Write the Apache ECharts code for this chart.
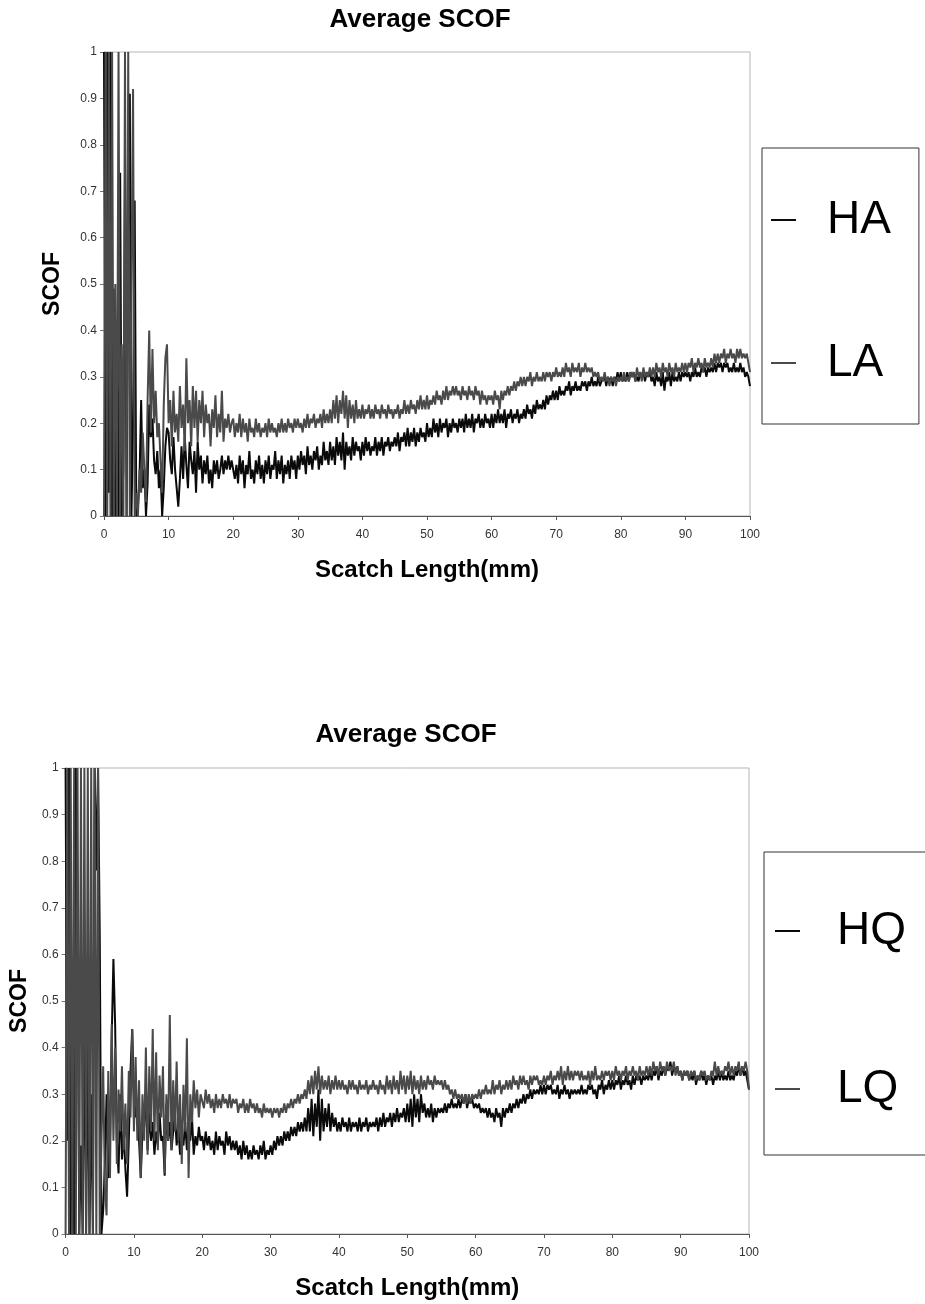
<!DOCTYPE html>
<html>
<head>
<meta charset="utf-8">
<script src="https://cdn.jsdelivr.net/npm/echarts@6/dist/echarts.min.js"></script>
<style>
html,body{margin:0;padding:0;background:#fff;}
#c{width:925px;height:1304px;}
</style>
</head>
<body>
<div id="c"></div>
<script>
// Sampling: every 0.25 mm from 0 to 100 mm (early = 0–19.75, late = 20–100)
const STEP = 0.25;
const xTicks = [0,10,20,30,40,50,60,70,80,90,100];
const titles = ['Average SCOF','Average SCOF'];
const xName = 'Scatch Length(mm)';
const yName = 'SCOF';
const names1 = ['HA','LA'];
const names2 = ['HQ','LQ'];

// ---- Chart 1 ----
const HA_early = [
1.0,0.0,1.0,0.05,1.0,0.0,0.49,0.0,
0.3,0.0,0.74,0.0,0.1,0.73,0.0,0.61,
0.91,0.0,0.2,0.68,0.0,0.02,0.08,0.25,
0.06,0.1,0.0,0.07,0.24,0.17,0.21,0.12,
0.09,0.14,0.06,0.1,0.0,0.06,0.15,0.19,
0.18,0.12,0.09,0.17,0.1,0.06,0.02,0.08,
0.15,0.08,0.17,0.11,0.06,0.16,0.12,0.09,
0.14,0.05,0.16,0.10,0.13,0.07,0.12,0.09,
0.13,0.07,0.10,0.06,0.12,0.09,0.12,0.08,
0.10,0.13,0.09,0.12,0.10,0.13,0.10,0.12];
const HA_late = [
0.12,0.08,0.11,0.07,0.13,0.09,0.12,0.06,0.11,0.09,0.14,0.08,0.10,0.07,0.12,0.09,0.13,0.08,0.11,0.07,
0.12,0.09,0.13,0.08,0.11,0.10,0.14,0.08,0.12,0.09,0.13,0.07,0.11,0.09,0.12,0.08,0.13,0.10,0.12,0.08,
0.13,0.10,0.14,0.11,0.13,0.09,0.15,0.11,0.13,0.10,0.14,0.12,0.15,0.10,0.13,0.11,0.16,0.12,0.14,0.11,
0.16,0.12,0.15,0.11,0.17,0.13,0.16,0.12,0.18,0.10,0.16,0.13,0.15,0.12,0.17,0.13,0.16,0.14,0.15,0.12,
0.16,0.13,0.17,0.14,0.16,0.13,0.15,0.14,0.17,0.13,0.16,0.14,0.17,0.13,0.16,0.15,0.17,0.14,0.16,0.15,
0.17,0.15,0.18,0.14,0.17,0.16,0.18,0.15,0.19,0.15,0.18,0.16,0.19,0.15,0.18,0.16,0.19,0.17,0.18,0.16,
0.20,0.17,0.19,0.17,0.21,0.18,0.20,0.17,0.21,0.18,0.20,0.19,0.21,0.17,0.20,0.18,0.21,0.19,0.20,0.18,
0.21,0.19,0.21,0.18,0.22,0.19,0.21,0.19,0.22,0.18,0.21,0.20,0.22,0.19,0.21,0.19,0.22,0.20,0.21,0.19,
0.22,0.19,0.22,0.20,0.23,0.20,0.22,0.20,0.23,0.19,0.22,0.21,0.23,0.20,0.22,0.21,0.23,0.20,0.22,0.21,
0.23,0.21,0.24,0.22,0.23,0.21,0.24,0.22,0.25,0.23,0.24,0.23,0.25,0.23,0.26,0.24,0.26,0.25,0.27,0.25,
0.27,0.25,0.28,0.26,0.27,0.26,0.28,0.27,0.29,0.26,0.28,0.27,0.29,0.27,0.28,0.27,0.29,0.28,0.29,0.27,
0.29,0.28,0.30,0.28,0.29,0.28,0.30,0.28,0.29,0.29,0.30,0.28,0.30,0.29,0.30,0.28,0.30,0.29,0.31,0.29,
0.31,0.29,0.30,0.29,0.31,0.29,0.31,0.30,0.31,0.29,0.30,0.29,0.31,0.30,0.31,0.29,0.31,0.30,0.31,0.29,
0.30,0.28,0.31,0.29,0.30,0.28,0.31,0.27,0.30,0.29,0.31,0.28,0.31,0.29,0.30,0.29,0.31,0.29,0.31,0.30,
0.31,0.30,0.31,0.29,0.31,0.30,0.32,0.30,0.31,0.30,0.32,0.31,0.32,0.30,0.32,0.31,0.32,0.31,0.33,0.31,
0.33,0.32,0.33,0.31,0.33,0.32,0.33,0.31,0.32,0.31,0.33,0.31,0.32,0.31,0.33,0.31,0.32,0.30,0.31,0.30,
0.28];
const LA_early = [
0.0,1.0,0.0,1.0,0.0,1.0,0.0,0.5,
0.0,1.0,0.0,0.37,0.0,1.0,0.0,1.0,
0.0,0.5,0.92,0.0,0.05,0.0,0.1,0.05,
0.18,0.1,0.03,0.25,0.40,0.18,0.36,0.2,
0.27,0.17,0.2,0.12,0.05,0.24,0.34,0.37,
0.2,0.25,0.15,0.27,0.18,0.22,0.16,0.28,
0.19,0.24,0.14,0.34,0.2,0.25,0.15,0.28,
0.19,0.27,0.16,0.25,0.2,0.27,0.17,0.24,
0.2,0.22,0.15,0.23,0.19,0.26,0.17,0.22,
0.18,0.27,0.16,0.21,0.19,0.22,0.18,0.2];
const LA_late = [
0.21,0.17,0.20,0.18,0.22,0.17,0.21,0.18,0.20,0.16,0.21,0.18,0.19,0.17,0.21,0.18,0.20,0.17,0.19,0.18,
0.20,0.17,0.21,0.18,0.20,0.18,0.19,0.17,0.20,0.18,0.21,0.18,0.20,0.18,0.21,0.19,0.20,0.18,0.21,0.19,
0.21,0.19,0.20,0.18,0.21,0.19,0.22,0.19,0.21,0.20,0.22,0.19,0.21,0.20,0.22,0.19,0.23,0.20,0.22,0.20,
0.23,0.20,0.25,0.21,0.26,0.20,0.25,0.22,0.27,0.21,0.26,0.19,0.25,0.21,0.24,0.20,0.25,0.21,0.23,0.21,
0.24,0.21,0.23,0.22,0.24,0.21,0.23,0.21,0.24,0.22,0.23,0.21,0.24,0.22,0.23,0.21,0.24,0.22,0.23,0.21,
0.23,0.22,0.24,0.21,0.23,0.22,0.25,0.22,0.24,0.22,0.25,0.23,0.24,0.22,0.25,0.23,0.26,0.23,0.25,0.23,
0.26,0.23,0.25,0.24,0.26,0.24,0.27,0.25,0.26,0.24,0.27,0.25,0.28,0.25,0.27,0.26,0.28,0.26,0.28,0.26,
0.27,0.25,0.28,0.26,0.27,0.25,0.28,0.26,0.27,0.25,0.28,0.26,0.27,0.24,0.27,0.25,0.26,0.24,0.26,0.25,
0.26,0.24,0.27,0.25,0.26,0.23,0.27,0.25,0.27,0.26,0.28,0.26,0.28,0.27,0.29,0.27,0.29,0.28,0.30,0.28,
0.30,0.28,0.30,0.29,0.31,0.28,0.30,0.29,0.31,0.29,0.30,0.29,0.31,0.29,0.31,0.30,0.31,0.29,0.31,0.30,
0.32,0.30,0.31,0.30,0.32,0.30,0.33,0.31,0.32,0.30,0.33,0.31,0.32,0.31,0.33,0.30,0.32,0.31,0.33,0.31,
0.32,0.31,0.32,0.30,0.31,0.30,0.31,0.29,0.30,0.29,0.31,0.29,0.30,0.28,0.30,0.29,0.30,0.28,0.30,0.29,
0.30,0.29,0.31,0.29,0.30,0.29,0.31,0.30,0.31,0.29,0.32,0.30,0.31,0.29,0.32,0.30,0.31,0.30,0.32,0.30,
0.32,0.30,0.33,0.31,0.32,0.30,0.33,0.31,0.32,0.30,0.33,0.31,0.32,0.30,0.33,0.31,0.32,0.31,0.33,0.31,
0.33,0.31,0.33,0.32,0.34,0.31,0.33,0.32,0.34,0.32,0.33,0.31,0.34,0.32,0.33,0.32,0.34,0.32,0.35,0.33,
0.35,0.33,0.35,0.34,0.36,0.33,0.35,0.34,0.36,0.34,0.35,0.33,0.36,0.34,0.36,0.34,0.35,0.34,0.35,0.33,
0.31];

// ---- Chart 2 ----
const HQ_early = [
1.0,0.2,1.0,0.0,0.45,0.0,1.0,0.64,
0.0,0.19,0.0,0.5,0.0,0.42,0.0,0.3,
0.0,1.0,0.78,1.0,0.64,0.0,0.05,0.15,
0.3,0.12,0.2,0.42,0.59,0.45,0.2,0.13,
0.3,0.16,0.22,0.14,0.08,0.2,0.35,0.44,
0.3,0.25,0.28,0.2,0.12,0.22,0.23,0.3,
0.18,0.26,0.2,0.24,0.17,0.22,0.19,0.26,
0.2,0.21,0.125,0.28,0.2,0.24,0.18,0.22,
0.26,0.19,0.23,0.17,0.21,0.19,0.24,0.18,
0.22,0.2,0.25,0.17,0.21,0.19,0.23,0.2];
const HQ_late = [
0.21,0.18,0.22,0.19,0.21,0.18,0.20,0.17,0.22,0.18,0.21,0.19,0.20,0.17,0.22,0.19,0.21,0.18,0.20,0.18,
0.20,0.17,0.19,0.16,0.20,0.17,0.19,0.16,0.18,0.16,0.19,0.17,0.18,0.16,0.19,0.17,0.20,0.16,0.18,0.17,
0.19,0.17,0.20,0.18,0.21,0.19,0.21,0.19,0.22,0.20,0.22,0.20,0.23,0.21,0.23,0.21,0.24,0.22,0.24,0.22,
0.25,0.22,0.27,0.22,0.29,0.21,0.28,0.23,0.31,0.20,0.29,0.22,0.27,0.23,0.28,0.22,0.26,0.23,0.25,0.22,
0.24,0.22,0.25,0.23,0.24,0.22,0.25,0.22,0.24,0.23,0.24,0.22,0.25,0.22,0.24,0.23,0.25,0.22,0.24,0.23,
0.24,0.23,0.25,0.22,0.25,0.23,0.26,0.23,0.25,0.24,0.26,0.23,0.26,0.24,0.27,0.24,0.26,0.25,0.27,0.24,
0.28,0.24,0.29,0.23,0.30,0.25,0.29,0.24,0.30,0.26,0.28,0.25,0.27,0.25,0.28,0.24,0.27,0.25,0.27,0.26,
0.27,0.26,0.28,0.26,0.28,0.27,0.29,0.27,0.28,0.27,0.29,0.27,0.29,0.28,0.30,0.27,0.29,0.28,0.29,0.27,
0.28,0.27,0.28,0.26,0.27,0.26,0.27,0.25,0.27,0.25,0.26,0.24,0.27,0.25,0.26,0.23,0.27,0.25,0.27,0.26,
0.28,0.26,0.28,0.27,0.29,0.27,0.29,0.28,0.30,0.28,0.30,0.29,0.31,0.29,0.31,0.30,0.31,0.30,0.32,0.30,
0.32,0.30,0.32,0.31,0.32,0.30,0.31,0.30,0.32,0.29,0.31,0.30,0.32,0.30,0.31,0.29,0.31,0.30,0.31,0.30,
0.31,0.30,0.32,0.30,0.31,0.30,0.32,0.31,0.32,0.30,0.31,0.29,0.32,0.31,0.33,0.30,0.32,0.31,0.33,0.31,
0.33,0.31,0.33,0.32,0.34,0.31,0.33,0.32,0.34,0.32,0.33,0.31,0.34,0.32,0.34,0.33,0.34,0.32,0.34,0.33,
0.34,0.33,0.35,0.33,0.35,0.34,0.36,0.33,0.35,0.34,0.36,0.34,0.36,0.35,0.37,0.34,0.36,0.35,0.36,0.34,
0.35,0.33,0.35,0.34,0.35,0.33,0.34,0.33,0.35,0.32,0.34,0.33,0.35,0.33,0.34,0.32,0.34,0.33,0.34,0.32,
0.34,0.33,0.35,0.33,0.35,0.33,0.34,0.33,0.35,0.33,0.34,0.33,0.35,0.34,0.36,0.34,0.36,0.34,0.35,0.33,
0.31];
const LQ_early = [
0.0,1.0,0.0,1.0,0.0,1.0,0.0,1.0,
0.0,1.0,0.0,1.0,0.0,1.0,0.0,1.0,
0.0,1.0,0.0,1.0,0.0,0.2,0.36,0.1,
0.04,0.35,0.12,0.45,0.2,0.4,0.15,0.31,
0.22,0.36,0.18,0.28,0.15,0.35,0.25,0.44,
0.22,0.38,0.2,0.33,0.12,0.3,0.2,0.4,
0.17,0.36,0.22,0.44,0.2,0.39,0.18,0.34,
0.25,0.36,0.13,0.3,0.2,0.47,0.18,0.33,
0.22,0.37,0.2,0.3,0.15,0.32,0.22,0.42,
0.12,0.3,0.24,0.33,0.27,0.31,0.25,0.3];
const LQ_late = [
0.30,0.27,0.31,0.28,0.30,0.27,0.29,0.26,0.30,0.27,0.29,0.27,0.30,0.28,0.29,0.27,0.30,0.27,0.29,0.28,
0.29,0.26,0.28,0.27,0.29,0.26,0.28,0.26,0.29,0.27,0.28,0.26,0.28,0.26,0.27,0.25,0.28,0.26,0.27,0.26,
0.27,0.25,0.27,0.26,0.27,0.25,0.27,0.26,0.28,0.26,0.28,0.27,0.29,0.27,0.29,0.28,0.30,0.28,0.30,0.29,
0.31,0.29,0.33,0.30,0.34,0.30,0.35,0.31,0.36,0.30,0.34,0.31,0.33,0.31,0.34,0.30,0.33,0.31,0.34,0.31,
0.33,0.31,0.33,0.31,0.32,0.30,0.33,0.31,0.33,0.31,0.32,0.30,0.33,0.31,0.32,0.31,0.33,0.30,0.32,0.31,
0.33,0.31,0.32,0.30,0.33,0.31,0.32,0.30,0.34,0.31,0.33,0.30,0.34,0.31,0.33,0.30,0.35,0.31,0.34,0.30,
0.34,0.31,0.35,0.30,0.34,0.31,0.33,0.30,0.34,0.31,0.33,0.31,0.34,0.32,0.33,0.31,0.34,0.32,0.33,0.32,
0.33,0.31,0.33,0.31,0.32,0.30,0.31,0.29,0.31,0.29,0.30,0.29,0.30,0.28,0.30,0.28,0.30,0.28,0.30,0.29,
0.30,0.29,0.31,0.29,0.31,0.30,0.32,0.30,0.31,0.30,0.33,0.30,0.32,0.31,0.33,0.30,0.32,0.31,0.33,0.31,
0.33,0.31,0.34,0.32,0.33,0.31,0.34,0.32,0.34,0.32,0.33,0.31,0.34,0.32,0.34,0.33,0.34,0.32,0.33,0.32,
0.34,0.32,0.34,0.33,0.35,0.32,0.34,0.33,0.35,0.33,0.36,0.32,0.35,0.33,0.36,0.33,0.35,0.33,0.35,0.34,
0.35,0.33,0.35,0.33,0.34,0.33,0.35,0.32,0.35,0.33,0.36,0.33,0.34,0.33,0.35,0.33,0.35,0.34,0.35,0.33,
0.35,0.33,0.36,0.34,0.35,0.33,0.35,0.34,0.36,0.33,0.35,0.34,0.36,0.34,0.35,0.33,0.36,0.34,0.35,0.34,
0.36,0.34,0.36,0.34,0.37,0.35,0.36,0.34,0.37,0.35,0.36,0.34,0.37,0.35,0.36,0.35,0.37,0.34,0.36,0.34,
0.35,0.33,0.35,0.34,0.35,0.33,0.35,0.34,0.35,0.33,0.34,0.33,0.35,0.34,0.35,0.33,0.34,0.33,0.35,0.34,
0.37,0.34,0.36,0.34,0.35,0.34,0.36,0.35,0.37,0.34,0.36,0.34,0.36,0.35,0.37,0.34,0.36,0.35,0.37,0.35,
0.31];

function pairs(early, late) {
  return early.concat(late).map((v, i) => [i * STEP, v]);
}

const FONT = "'Liberation Sans', Arial, sans-serif";
const BLACK = '#0a0a0a', GRAY = '#4a4a4a';

function xAxisCfg(gi, gap) {
  return {
    type: 'value', gridIndex: gi, min: xTicks[0], max: xTicks[xTicks.length-1], interval: 10,
    name: xName, nameLocation: 'middle', nameGap: gap,
    nameTextStyle: {fontFamily: FONT, fontSize: 24, fontWeight: 'bold', color: '#000'},
    axisLine: {show: true, onZero: false, lineStyle: {color: '#555', width: 1}},
    axisTick: {show: true, length: 4, lineStyle: {color: '#555'}},
    axisLabel: {fontFamily: FONT, fontSize: 12, color: '#333', margin: 13},
    splitLine: {show: false}
  };
}
function yAxisCfg(gi, gap) {
  return {
    type: 'value', gridIndex: gi, min: 0, max: 1, interval: 0.1,
    name: yName, nameLocation: 'middle', nameGap: gap, nameRotate: 90,
    nameTextStyle: {fontFamily: FONT, fontSize: 23, fontWeight: 'bold', color: '#000'},
    axisLine: {show: true, lineStyle: {color: '#777', width: 1}},
    axisTick: {show: true, length: 4, lineStyle: {color: '#777'}},
    axisLabel: {fontFamily: FONT, fontSize: 12, color: '#333', margin: 7},
    splitLine: {show: false}
  };
}
function lineSeries(name, data, color, idx) {
  return {
    name: name, type: 'line', xAxisIndex: idx, yAxisIndex: idx, data: data,
    showSymbol: false, symbol: 'none', clip: true,
    lineStyle: {color: color, width: 2}, itemStyle: {color: color},
    emphasis: {disabled: true}
  };
}
const legendText = {
  fontFamily: FONT, fontSize: 46, color: '#000',
  textShadowColor: '#b0b0b0', textShadowOffsetX: 3, textShadowOffsetY: 3, textShadowBlur: 0
};

const chart = echarts.init(document.getElementById('c'), null, {renderer: 'canvas'});
chart.setOption({
  animation: false,
  backgroundColor: '#fff',
  title: [
    {text: titles[0], left: 420, top: 7, textAlign: 'center', padding: 0,
     textStyle: {fontFamily: FONT, fontSize: 26, fontWeight: 'bold', color: '#000'}},
    {text: titles[1], left: 406, top: 722, textAlign: 'center', padding: 0,
     textStyle: {fontFamily: FONT, fontSize: 26, fontWeight: 'bold', color: '#000'}}
  ],
  grid: [
    {left: 104, top: 52, width: 646, height: 464, show: true, borderColor: '#b5b5b5', borderWidth: 1, backgroundColor: '#fff'},
    {left: 64, top: 768, width: 685, height: 466, show: true, borderColor: '#b5b5b5', borderWidth: 1, backgroundColor: '#fff'}
  ],
  xAxis: [xAxisCfg(0, 42), xAxisCfg(1, 42)],
  yAxis: [yAxisCfg(0, 40), yAxisCfg(1, 26)],
  legend: [
    {data: names1, orient: 'vertical', left: 762, top: 148, itemWidth: 25, itemHeight: 2, itemGap: 97,
     padding: [49, 28, 38, 9], borderColor: '#333', borderWidth: 1, backgroundColor: '#fff',
     icon: 'rect', itemStyle: {borderWidth: 0},
     textStyle: Object.assign({padding: [0, 0, 0, 26]}, legendText), selectedMode: false},
    {data: names2, orient: 'vertical', left: 764, top: 852, itemWidth: 25, itemHeight: 2, itemGap: 112,
     padding: [56, 60, 43, 11], borderColor: '#333', borderWidth: 1, backgroundColor: '#fff',
     icon: 'rect', itemStyle: {borderWidth: 0},
     textStyle: Object.assign({padding: [0, 0, 0, 32]}, legendText), selectedMode: false}
  ],
  series: [
    lineSeries(names1[0], pairs(HA_early, HA_late), BLACK, 0),
    lineSeries(names1[1], pairs(LA_early, LA_late), GRAY, 0),
    lineSeries(names2[0], pairs(HQ_early, HQ_late), BLACK, 1),
    lineSeries(names2[1], pairs(LQ_early, LQ_late), GRAY, 1)
  ]
});
</script>
</body>
</html>
